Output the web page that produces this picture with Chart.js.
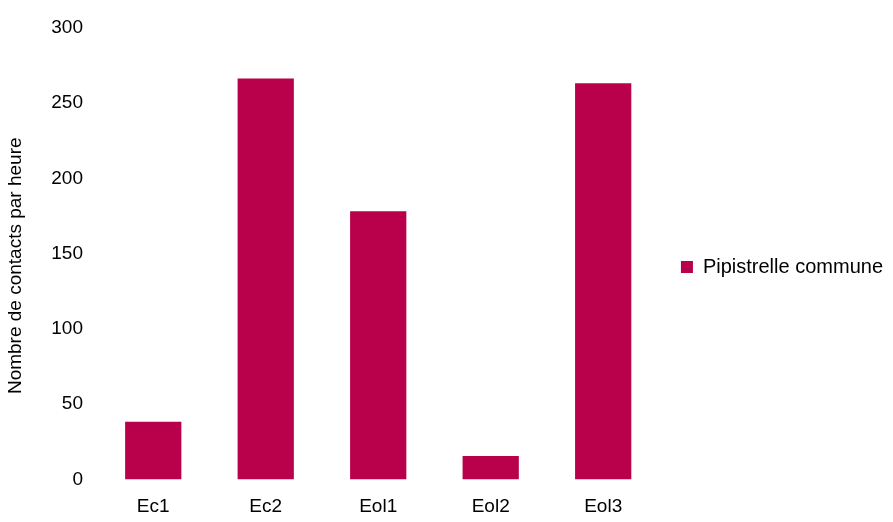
<!DOCTYPE html>
<html>
<head>
<meta charset="utf-8">
<script src="https://cdn.jsdelivr.net/npm/chart.js@4"></script>
<style>
  body { margin: 0; background: #fff; }
  #wrap { width: 893px; height: 522px; }
</style>
</head>
<body>
<div id="wrap"><canvas id="chart" width="893" height="522"></canvas></div>
<script>
// Points d'écoute et activité mesurée
const stations = ['Ec1', 'Ec2', 'Eol1', 'Eol2', 'Eol3'];
const contactsPerHour = [38.4, 266.5, 178.2, 15.6, 263.3];
const yTicks = [0, 50, 100, 150, 200, 250, 300];
const yTitle = 'Nombre de contacts par heure';

const barColor = '#B9004B';
const fontFamily = '"Liberation Sans", Arial, sans-serif';

// Titre vertical de l'axe Y, centré un peu plus bas que la zone de tracé
const yTitlePlugin = {
    id: 'yTitle',
    afterDraw(chart) {
        const { ctx, chartArea } = chart;
        const cy = (chartArea.top + chartArea.bottom) / 2 + 12;
        ctx.save();
        ctx.translate(16, cy);
        ctx.rotate(-Math.PI / 2);
        ctx.fillStyle = '#000';
        ctx.font = `19px ${fontFamily}`;
        ctx.textAlign = 'center';
        ctx.textBaseline = 'middle';
        ctx.fillText(yTitle, 0, 0);
        ctx.restore();
    },
};

const ctx = document.getElementById('chart').getContext('2d');
window.contactsChart = new Chart(ctx, {
    type: 'bar',
    data: {
        labels: stations,
        datasets: [
            {
                label: 'Pipistrelle commune',
                data: contactsPerHour,
                backgroundColor: barColor,
                barPercentage: 0.5,
                categoryPercentage: 1.0,
            },
        ],
    },
    plugins: [yTitlePlugin],
    options: {
        responsive: false,
        animation: false,
        layout: {
            padding: { top: 12, right: 0, bottom: 0, left: 0 },
        },
        plugins: {
            // titre vide : réserve 16px au-dessus du tracé seulement
            title: {
                display: true,
                text: '',
                fullSize: false,
                padding: 2,
                font: { size: 10 },
            },
            legend: {
                position: 'right',
                align: 'center',
                maxWidth: 400,
                labels: {
                    boxWidth: 12,
                    boxHeight: 12,
                    color: '#000',
                    padding: 21.5,
                    font: { family: fontFamily, size: 20 },
                },
            },
            tooltip: { enabled: false },
        },
        scales: {
            x: {
                grid: { display: false, drawTicks: false },
                border: { display: false },
                afterFit: (axis) => { axis.height = 42.5; },
                ticks: {
                    color: '#000',
                    padding: 16,
                    font: { family: fontFamily, size: 19 },
                },
            },
            y: {
                min: 0,
                max: 300,
                grid: { display: false, drawTicks: false },
                border: { display: false },
                afterFit: (axis) => { axis.width = 97; },
                afterBuildTicks: (axis) => {
                    axis.ticks = yTicks.map(v => ({ value: v }));
                },
                ticks: {
                    color: '#000',
                    padding: 14,
                    font: { family: fontFamily, size: 19 },
                },
            },
        },
    },
});
</script>
</body>
</html>
